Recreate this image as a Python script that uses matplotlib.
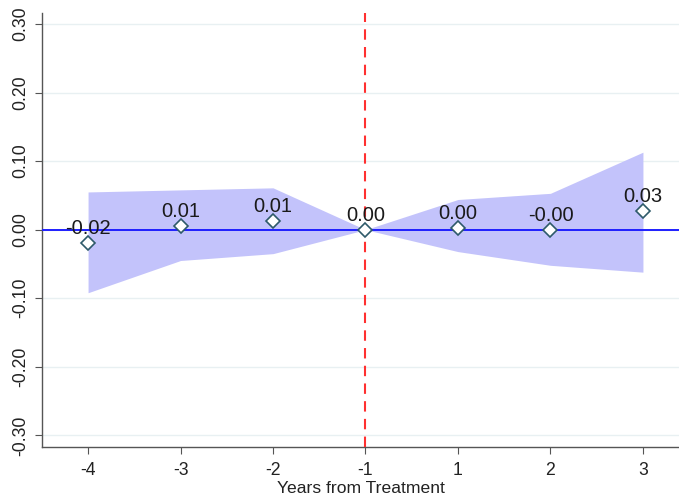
import matplotlib

matplotlib.use("Agg")
import matplotlib.pyplot as plt  # noqa: E402

plt.rcParams["font.family"] = ["Liberation Sans", "DejaVu Sans"]

years = ["-4", "-3", "-2", "-1", "1", "2", "3"]
coef = [-0.019, 0.006, 0.013, 0.0, 0.003, 0.0, 0.027]
labels = ["-0.02", "0.01", "0.01", "0.00", "0.00", "-0.00", "0.03"]
ci_hi = [0.055, 0.058, 0.061, 0.0, 0.044, 0.053, 0.113]
ci_lo = [-0.092, -0.045, -0.035, 0.0, -0.032, -0.052, -0.062]
yticks = [-0.3, -0.2, -0.1, 0.0, 0.1, 0.2, 0.3]

fig = plt.figure(figsize=(6.79, 5.0), dpi=100)
ax = fig.add_axes([0.062, 0.106, 0.938, 0.868])

x = list(range(len(years)))
ax.fill_between(x, ci_lo, ci_hi, color="#c3c3fb", linewidth=0, zorder=2)
ax.axhline(0, color="#1f1fff", linewidth=1.4, zorder=3)
ax.axvline(3, color="#ff3030", linestyle=(0, (5, 3.5)), linewidth=1.5, zorder=3)
ax.plot(x, coef, linestyle="none", marker="D", markersize=7,
        markerfacecolor="white", markeredgecolor="#2e5a6a",
        markeredgewidth=1.2, zorder=5)
for xi, yi, lab in zip(x, coef, labels):
    ax.annotate(lab, (xi, yi), xytext=(0, 6.5), textcoords="offset points",
                ha="center", va="baseline", fontsize=14.5, color="#1a1a1a",
                zorder=6)

ax.set_xlim(-0.497, 6.39)
ax.set_ylim(-0.317, 0.316)
ax.set_xticks(x)
ax.set_xticklabels(years)
ax.set_yticks(yticks)
ax.set_yticklabels([f"{v:.2f}" for v in yticks], rotation=90, va="center")
ax.grid(axis="y", color="#e8f0f2", linewidth=1.0, zorder=0)
ax.set_axisbelow(True)

for side in ("top", "right"):
    ax.spines[side].set_visible(False)
for side in ("left", "bottom"):
    ax.spines[side].set_color("#555555")
    ax.spines[side].set_linewidth(1.0)
ax.tick_params(direction="out", length=5, color="#555555", labelsize=12.7,
               labelcolor="#222222", pad=4)
ax.tick_params(axis="x", pad=6)
ax.set_xlabel("Years from Treatment", fontsize=12.6, color="#222222",
              labelpad=1)

fig.savefig("out.png", dpi=100)
